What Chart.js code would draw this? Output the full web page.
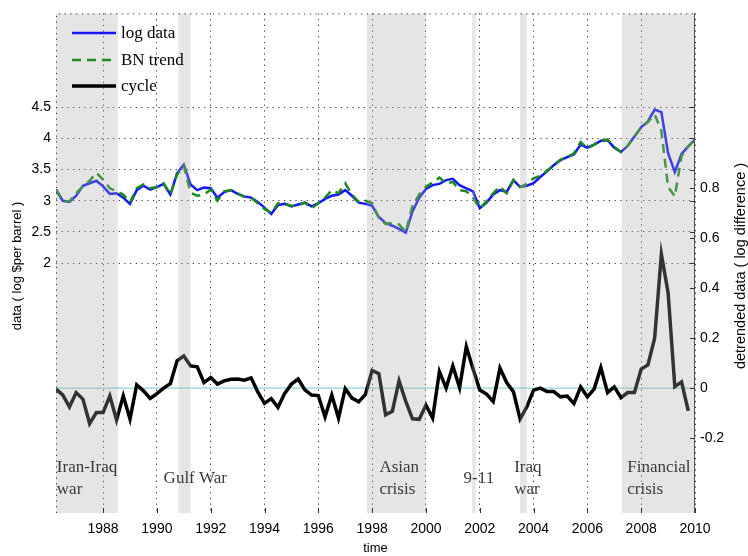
<!DOCTYPE html>
<html>
<head>
<meta charset="utf-8">
<script src="https://cdn.jsdelivr.net/npm/chart.js@4.4.1/dist/chart.umd.min.js"></script>
<style>
  body { margin: 0; background: #fff; }
  canvas { display: block; }
</style>
</head>
<body>
<canvas id="oilChart" width="748" height="556"></canvas>
<script>
// quarterly dates (decimal years)
const dates = [
  1986.25, 1986.5, 1986.75,
  1987, 1987.25, 1987.5, 1987.75,
  1988, 1988.25, 1988.5, 1988.75,
  1989, 1989.25, 1989.5, 1989.75,
  1990, 1990.25, 1990.5, 1990.75,
  1991, 1991.25, 1991.5, 1991.75,
  1992, 1992.25, 1992.5, 1992.75,
  1993, 1993.25, 1993.5, 1993.75,
  1994, 1994.25, 1994.5, 1994.75,
  1995, 1995.25, 1995.5, 1995.75,
  1996, 1996.25, 1996.5, 1996.75,
  1997, 1997.25, 1997.5, 1997.75,
  1998, 1998.25, 1998.5, 1998.75,
  1999, 1999.25, 1999.5, 1999.75,
  2000, 2000.25, 2000.5, 2000.75,
  2001, 2001.25, 2001.5, 2001.75,
  2002, 2002.25, 2002.5, 2002.75,
  2003, 2003.25, 2003.5, 2003.75,
  2004, 2004.25, 2004.5, 2004.75,
  2005, 2005.25, 2005.5, 2005.75,
  2006, 2006.25, 2006.5, 2006.75,
  2007, 2007.25, 2007.5, 2007.75,
  2008, 2008.25, 2008.5, 2008.75,
  2009, 2009.25, 2009.5, 2009.75,
  2010
];

// log $ per barrel
const logData = [
  3.18, 3.00, 2.98, 3.08, 3.24, 3.28, 3.32, 3.23, 3.11, 3.12,
  3.05, 2.95, 3.17, 3.24, 3.18, 3.22, 3.27, 3.10, 3.44, 3.58,
  3.26, 3.17, 3.21, 3.20, 3.05, 3.14, 3.17, 3.11, 3.07, 3.05,
  2.98, 2.89, 2.79, 2.93, 2.95, 2.91, 2.94, 2.97, 2.91, 2.96,
  3.03, 3.08, 3.10, 3.17, 3.08, 2.97, 2.95, 2.92, 2.74, 2.64,
  2.60, 2.55, 2.49, 2.83, 3.05, 3.19, 3.25, 3.27, 3.33, 3.35,
  3.25, 3.20, 3.15, 2.88, 2.97, 3.10, 3.17, 3.14, 3.33, 3.22,
  3.24, 3.28, 3.38, 3.47, 3.57, 3.65, 3.70, 3.74, 3.90, 3.85,
  3.90, 3.96, 3.97, 3.85, 3.78, 3.88, 4.03, 4.18, 4.27, 4.46,
  4.42, 3.76, 3.46, 3.75, 3.87, 3.98
];

// Beveridge-Nelson trend
const bnTrend = [
  3.17, 3.00, 2.99, 3.12, 3.23, 3.32, 3.45, 3.34, 3.20, 3.15,
  3.10, 2.97, 3.20, 3.26, 3.20, 3.22, 3.28, 3.10, 3.42, 3.56,
  3.13, 3.08, 3.10, 3.18, 3.00, 3.15, 3.17, 3.12, 3.06, 3.05,
  2.96, 2.87, 2.80, 2.96, 2.95, 2.92, 2.92, 2.97, 2.88, 2.96,
  3.05, 3.17, 3.12, 3.28, 3.10, 2.98, 3.00, 2.96, 2.72, 2.63,
  2.64, 2.62, 2.50, 2.92, 3.10, 3.22, 3.30, 3.37, 3.28, 3.30,
  3.17, 3.15, 3.05, 2.88, 2.99, 3.12, 3.23, 3.12, 3.33, 3.22,
  3.27, 3.36, 3.40, 3.48, 3.57, 3.66, 3.70, 3.76, 3.94, 3.84,
  3.90, 3.96, 3.98, 3.86, 3.78, 3.88, 4.03, 4.17, 4.26, 4.38,
  4.12, 3.22, 3.07, 3.72, 3.87, 3.98
];

// cycle (log difference), right axis
const cycle = [
  -0.004, -0.027, -0.075, -0.018, -0.044, -0.142, -0.098, -0.098, -0.031, -0.128,
  -0.031, -0.124, 0.013, -0.011, -0.041, -0.022, 0.000, 0.018, 0.109, 0.129,
  0.089, 0.085, 0.022, 0.042, 0.016, 0.029, 0.035, 0.036, 0.032, 0.041,
  -0.015, -0.061, -0.042, -0.077, -0.021, 0.016, 0.036, -0.007, -0.028, -0.030,
  -0.115, -0.028, -0.120, -0.002, -0.040, -0.055, -0.025, 0.071, 0.058, -0.107,
  -0.093, 0.029, -0.053, -0.123, -0.125, -0.068, -0.120, 0.066, 0.000, 0.089,
  0.002, 0.166, 0.077, -0.008, -0.024, -0.054, 0.080, 0.022, -0.014, -0.124,
  -0.075, -0.008, 0.000, -0.014, -0.014, -0.035, -0.032, -0.062, 0.005, -0.035,
  -0.004, 0.082, -0.018, 0.005, -0.038, -0.018, -0.018, 0.076, 0.093, 0.200,
  0.536, 0.382, 0.006, 0.025, -0.091
];

const xTicks = [1988, 1990, 1992, 1994, 1996, 1998, 2000, 2002, 2004, 2006, 2008, 2010];
const leftTicks = [2, 2.5, 3, 3.5, 4, 4.5];
const rightTicks = [-0.2, 0, 0.2, 0.4, 0.6, 0.8];

// shaded events [from, to]
const bands = [
  [1986.25, 1988.55],
  [1990.8, 1991.25],
  [1997.8, 2000.0],
  [2001.72, 2001.85],
  [2003.5, 2003.75],
  [2007.28, 2010.0]
];

// event labels: text lines, x (year), y (right axis value of first line)
const events = [
  { lines: ['Iran-Iraq', 'war'], x: 1986.28, y: -0.318 },
  { lines: ['Gulf War'], x: 1990.25, y: -0.362 },
  { lines: ['Asian', 'crisis'], x: 1998.27, y: -0.318 },
  { lines: ['9-11'], x: 2001.4, y: -0.362 },
  { lines: ['Iraq', 'war'], x: 2003.28, y: -0.318 },
  { lines: ['Financial', 'crisis'], x: 2007.48, y: -0.318 }
];

const sans = 'Liberation Sans, Arial, sans-serif';
const serif = 'Liberation Serif, Times New Roman, serif';

const toPoints = (vals) => vals.map((v, i) => ({ x: dates[i], y: v }));

const data = {
  datasets: [
    {
      label: 'log data',
      data: toPoints(logData),
      yAxisID: 'y',
      borderColor: '#1414ff',
      borderWidth: 2.5,
      pointRadius: 0,
      tension: 0,
      order: 3
    },
    {
      label: 'BN trend',
      data: toPoints(bnTrend),
      yAxisID: 'y',
      borderColor: '#1b8a1b',
      borderWidth: 2.5,
      borderDash: [9, 6],
      pointRadius: 0,
      tension: 0,
      order: 2
    },
    {
      label: 'cycle',
      data: toPoints(cycle),
      yAxisID: 'y2',
      borderColor: '#000',
      borderWidth: 3.5,
      pointRadius: 0,
      tension: 0,
      order: 1
    }
  ]
};

const dotted = [1.2, 4.5];

// vertical axis titles, both read bottom to top
const sideTitles = [
  { text: 'data ( log $per barrel )', x: 17, y: 266, size: 13 },
  { text: 'detrended data ( log difference )', x: 741, y: 266, size: 14.5 }
];

// zero line, event bands, labels, frame and legend
const extras = {
  id: 'extras',
  beforeDatasetsDraw(chart) {
    const { ctx, chartArea: a, scales } = chart;
    const y0 = scales.y2.getPixelForValue(0);
    ctx.save();
    ctx.strokeStyle = '#72cccc';
    ctx.lineWidth = 1;
    ctx.beginPath();
    ctx.moveTo(a.left, y0);
    ctx.lineTo(a.right, y0);
    ctx.stroke();
    ctx.restore();
  },
  afterDatasetsDraw(chart) {
    const { ctx, chartArea: a, scales } = chart;
    const sx = scales.x, sy = scales.y, sy2 = scales.y2;
    ctx.save();

    // bands go over the lines, so lines inside look lighter
    ctx.fillStyle = 'rgba(170,170,170,0.3)';
    bands.forEach(b => {
      const x1 = sx.getPixelForValue(b[0]);
      const x2 = sx.getPixelForValue(b[1]);
      ctx.fillRect(x1, a.top, x2 - x1, a.bottom - a.top);
    });

    // event labels
    ctx.fillStyle = '#3a3a3a';
    ctx.font = '17px ' + serif;
    ctx.textAlign = 'left';
    ctx.textBaseline = 'middle';
    events.forEach(ev => {
      const x = sx.getPixelForValue(ev.x);
      const y = sy2.getPixelForValue(ev.y);
      ev.lines.forEach((t, k) => ctx.fillText(t, x, y + k * 22));
    });

    // frame: dotted left/top, solid right
    ctx.strokeStyle = '#333';
    ctx.lineWidth = 1;
    ctx.setLineDash(dotted);
    ctx.beginPath();
    ctx.moveTo(a.left + 0.5, a.bottom);
    ctx.lineTo(a.left + 0.5, a.top + 0.5);
    ctx.lineTo(a.right, a.top + 0.5);
    ctx.stroke();
    ctx.setLineDash([]);
    ctx.strokeStyle = '#555';
    ctx.beginPath();
    ctx.moveTo(a.right - 0.5, a.top);
    ctx.lineTo(a.right - 0.5, a.bottom);
    ctx.stroke();

    // inward tick marks
    ctx.strokeStyle = '#333';
    ctx.beginPath();
    xTicks.forEach(v => {
      const x = Math.round(sx.getPixelForValue(v)) + 0.5;
      ctx.moveTo(x, a.bottom);
      ctx.lineTo(x, a.bottom - 5);
    });
    rightTicks.forEach(v => {
      const y = Math.round(sy2.getPixelForValue(v)) + 0.5;
      ctx.moveTo(a.right, y);
      ctx.lineTo(a.right - 5, y);
    });
    leftTicks.forEach(v => {
      const y = Math.round(sy.getPixelForValue(v)) + 0.5;
      ctx.moveTo(a.right, y);
      ctx.lineTo(a.right - 5, y);
    });
    ctx.stroke();

    // legend in the top left corner
    const rows = [33, 60, 86];
    ctx.font = '17px ' + serif;
    ctx.fillStyle = '#000';
    chart.data.datasets.forEach((ds, i) => {
      const y = rows[i];
      ctx.strokeStyle = ds.borderColor;
      ctx.lineWidth = ds.borderWidth;
      ctx.setLineDash(ds.borderDash || []);
      ctx.beginPath();
      ctx.moveTo(72, y);
      ctx.lineTo(116, y);
      ctx.stroke();
      ctx.setLineDash([]);
      ctx.fillText(ds.label, 121, y + 1);
    });

    // axis titles
    ctx.textAlign = 'center';
    sideTitles.forEach(t => {
      ctx.save();
      ctx.font = t.size + 'px ' + sans;
      ctx.translate(t.x, t.y);
      ctx.rotate(-Math.PI / 2);
      ctx.fillText(t.text, 0, 0);
      ctx.restore();
    });

    ctx.restore();
  }
};

const config = {
  type: 'line',
  data,
  options: {
    responsive: false,
    animation: false,
    layout: { padding: { top: 10, left: 0, right: 0, bottom: 0 } },
    plugins: {
      legend: { display: false },
      tooltip: { enabled: false }
    },
    scales: {
      x: {
        type: 'linear',
        min: 1986.25,
        max: 2010,
        afterBuildTicks: s => { s.ticks = xTicks.map(v => ({ value: v })); },
        afterFit: s => { s.height = 43; },
        ticks: {
          color: '#000',
          font: { family: sans, size: 14 },
          maxRotation: 0,
          padding: 8,
          callback: v => String(v)
        },
        grid: { color: '#333', drawTicks: false, lineWidth: 1 },
        border: { display: false, dash: dotted },
        title: {
          display: true,
          text: 'time',
          color: '#000',
          font: { family: sans, size: 13 },
          padding: { top: 0, bottom: 0 }
        }
      },
      y: {
        type: 'linear',
        position: 'left',
        min: -2,
        max: 6,
        afterBuildTicks: s => { s.ticks = leftTicks.map(v => ({ value: v })); },
        afterFit: s => { s.width = 56; },
        ticks: {
          color: '#000',
          font: { family: sans, size: 14 },
          padding: 5,
          callback: v => String(v)
        },
        grid: { color: '#333', drawTicks: false, lineWidth: 1 },
        border: { display: false, dash: dotted }
      },
      y2: {
        type: 'linear',
        position: 'right',
        min: -0.5,
        max: 1.5,
        afterBuildTicks: s => { s.ticks = rightTicks.map(v => ({ value: v })); },
        afterFit: s => { s.width = 53; },
        ticks: {
          color: '#000',
          font: { family: sans, size: 14 },
          padding: 5,
          callback: v => String(v)
        },
        grid: { drawOnChartArea: false, drawTicks: false },
        border: { display: false }
      }
    }
  },
  plugins: [extras]
};

const ctx = document.getElementById('oilChart').getContext('2d');
const oilChart = new Chart(ctx, config);
</script>
</body>
</html>
